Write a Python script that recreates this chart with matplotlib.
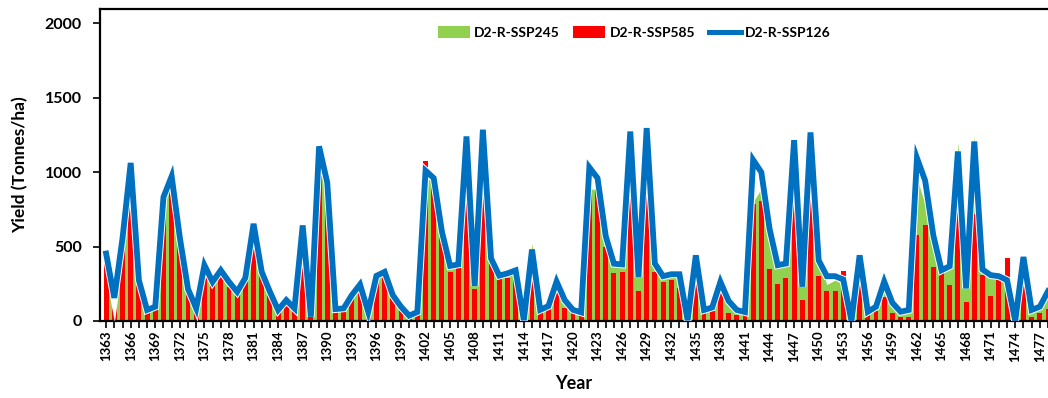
import matplotlib.pyplot as plt
import matplotlib.patheffects as pe
from matplotlib.lines import Line2D
from matplotlib.patches import Patch
import numpy as np

years = list(range(1363, 1479))

# D2-R-SSP245 (area)
ssp245 = [
    440, 150, 545, 1040, 270, 75, 90, 830, 960, 550,
    215, 80, 365, 260, 335, 255, 190, 285, 640, 325,
    195, 75, 135, 80, 620, 30, 1150, 940, 75, 85,
    170, 240, 60, 300, 325, 170, 95, 35,
    55, 960, 940, 590, 345, 370, 1100, 230, 1200, 415,
    300, 320, 375, 0, 520, 70, 90, 250, 130, 70,
    55, 890, 880, 590, 370, 370, 1200, 280, 1250, 395,
    290, 300, 300, 0, 455, 70, 90, 260, 130, 70, 60,
    800, 890, 560, 360, 375, 1000, 230, 1100, 415, 245,
    275, 245, 0, 440, 60, 100,
    240, 120, 60, 60, 960, 780, 600, 345, 380, 1200,
    220, 1245, 360, 290, 290, 270, 0, 420, 80, 100, 190,
]

# D2-R-SSP585 (bars)
ssp585 = [
    440, 140, 530, 890, 270, 70, 85, 832, 965, 540,
    205, 70, 335, 250, 320, 230, 185, 270, 660, 330,
    205, 85, 135, 70, 560, 25, 1185, 920, 70, 85,
    185, 225, 60, 320, 330, 170, 90, 30,
    50, 1078, 955, 570, 330, 360, 950, 215, 1010, 410,
    290, 290, 300, 0, 340, 60, 80, 210, 90, 60,
    40, 880, 975, 500, 320, 330, 980, 200, 980, 330,
    265, 275, 220, 0, 300, 60, 70, 210, 55, 40, 50,
    787, 805, 352, 247, 292, 832, 140, 925, 303, 203,
    203, 334, 0, 308, 51, 69,
    158, 51, 25, 29, 575, 647, 363, 340, 241, 880,
    125, 720, 308, 170, 279, 424, 0, 236, 29, 56, 80,
]

# D2-R-SSP126 (line)
ssp126 = [
    453, 155, 555, 1062, 274, 74, 96, 832, 972, 560,
    215, 85, 375, 263, 341, 263, 196, 290, 653, 330,
    196, 74, 140, 85, 642, 29, 1173, 930, 80, 85,
    174, 245, 62, 303, 330, 174, 96, 36,
    60, 1010, 960, 600, 370, 380, 1240, 235, 1285, 420,
    305, 320, 340, 5, 480, 75, 100, 265, 140, 75,
    58, 1032, 960, 570, 385, 380, 1273, 295, 1296, 386,
    301, 314, 314, 5, 441, 74, 91, 263, 135, 74, 60,
    1082, 999, 620, 375, 386, 1215, 230, 1267, 408, 301,
    301, 279, 0, 441, 62, 96,
    265, 122, 62, 74, 1095, 943, 575, 341, 368, 1139,
    219, 1206, 346, 308, 301, 274, 0, 430, 74, 96, 200,
]

GREEN = '#92D050'
RED = '#FF0000'
BLUE = '#0070C0'

plt.rcParams['font.family'] = ['Lato', 'DejaVu Sans']

fig = plt.figure(figsize=(10.48, 3.98), dpi=100)
ax = fig.add_axes([0.0954, 0.1935, 0.9046, 0.7835])

x = np.array(years)
ax.fill_between(x, ssp245, 0, color=GREEN, linewidth=0, zorder=1)
ax.bar(x, ssp585, width=0.6, color=RED, zorder=2)
ax.plot(x, ssp126, color=BLUE, linewidth=4.2, zorder=3, solid_joinstyle='miter',
        path_effects=[pe.Stroke(linewidth=5.6, foreground='white'), pe.Normal()])

ax.set_xlim(1362.25, 1477.3)
ax.set_ylim(0, 2095)

ax.set_yticks([0, 500, 1000, 1500, 2000])
ax.set_xticks(years, minor=True)
ax.set_xticks(years[::3])
ax.set_xticklabels([str(y) for y in years[::3]], rotation=90, fontsize=9.5, fontweight='bold')
for lab in ax.get_yticklabels():
    lab.set_fontsize(11.5)
    lab.set_fontweight('bold')

ax.tick_params(axis='x', which='both', direction='out', length=5, width=1.2, pad=2)
ax.tick_params(axis='y', direction='out', length=5, width=1.2, pad=8)

for side in ['left', 'bottom', 'top']:
    ax.spines[side].set_linewidth(1.6)
ax.spines['right'].set_visible(False)

ax.set_ylabel('Yield (Tonnes/ha)', fontsize=12.5, fontweight='bold', labelpad=12)
ax.set_xlabel('Year', fontsize=13, fontweight='bold', labelpad=10)

handles = [
    Patch(facecolor=GREEN, edgecolor='none'),
    Patch(facecolor=RED, edgecolor='none'),
    Line2D([0], [0], color=BLUE, linewidth=3.6),
]
labels = ['D2-R-SSP245', 'D2-R-SSP585', 'D2-R-SSP126']
ax.legend(handles, labels, loc='upper left', bbox_to_anchor=(0.343, 0.985), ncol=3,
          frameon=False, prop={'weight': 'bold', 'size': 10},
          handlelength=2.3, handleheight=0.9, columnspacing=1.0, handletextpad=0.3)

plt.savefig('out.png', dpi=100)
plt.close(fig)
